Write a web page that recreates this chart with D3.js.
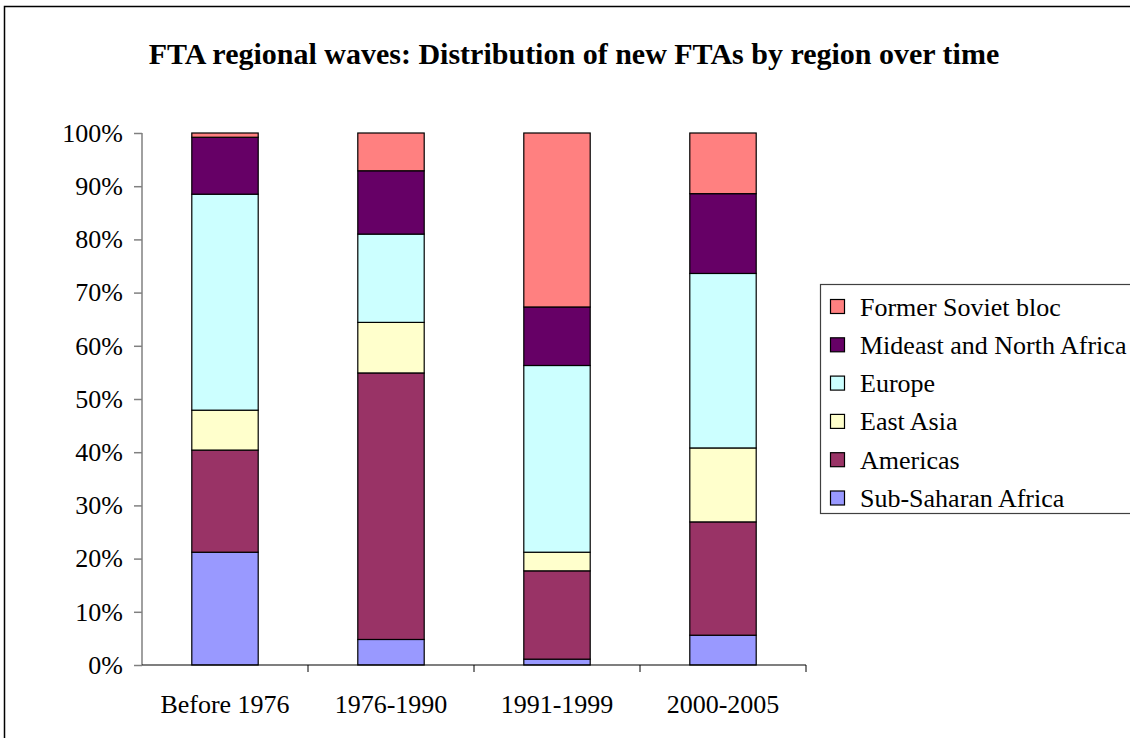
<!DOCTYPE html>
<html>
<head>
<meta charset="utf-8">
<script src="https://cdn.jsdelivr.net/npm/d3@7"></script>
<style>
  body { margin: 0; background: #fff; }
  svg { display: block; font-family: "Liberation Serif", "Times New Roman", serif; }
</style>
</head>
<body>
<div id="chart"></div>
<script>
// periods on the x axis
var categories = ["Before 1976", "1976-1990", "1991-1999", "2000-2005"];

// regions, stacked bottom to top (percent of new FTAs in the period)
var regions = ["Sub-Saharan Africa", "Americas", "East Asia", "Europe", "Mideast and North Africa", "Former Soviet bloc"];
var subSaharan = [21.2, 4.8, 1.1, 5.6];
var americas = [19.2, 50.1, 16.6, 21.3];
var eastAsia = [7.5, 9.5, 3.5, 13.9];
var europe = [40.6, 16.6, 35.1, 32.8];
var mideast = [10.7, 11.9, 11.0, 15.0];
var sovietBloc = [0.8, 7.1, 32.7, 11.4];

var yTicks = [0, 10, 20, 30, 40, 50, 60, 70, 80, 90, 100];

var colors = ["#9999FF", "#993366", "#FFFFCC", "#CCFFFF", "#660066", "#FF8080"];

var width = 1130, height = 738;
var plot = { left: 142, right: 806, top: 133, bottom: 665 };

//build rows for the stack
var seriesValues = [subSaharan, americas, eastAsia, europe, mideast, sovietBloc];
var rows = categories.map(function(c, i) {
    var row = { category: c };
    regions.forEach(function(r, j) { row[r] = seriesValues[j][i]; });
    return row;
});

var stacked = d3.stack().keys(regions)(rows);

var x = d3.scaleBand()
    .domain(categories)
    .range([plot.left, plot.right])
    .paddingInner(0.6)
    .paddingOuter(0.3);

var y = d3.scaleLinear()
    .domain([0, 100])
    .range([plot.bottom, plot.top]);

var color = d3.scaleOrdinal().domain(regions).range(colors);

var svg = d3.select('#chart')
    .append('svg')
    .attr('width', width)
    .attr('height', height);

// chart border
svg.append('rect')
    .attr('x', 4.5).attr('y', 6.5)
    .attr('width', width + 10).attr('height', height + 10)
    .attr('fill', 'none')
    .attr('stroke', '#000')
    .attr('stroke-width', 1.5);

svg.append('text')
    .attr('x', 574)
    .attr('y', 64)
    .attr('text-anchor', 'middle')
    .attr('font-size', '30px')
    .attr('font-weight', 'bold')
    .text('FTA regional waves: Distribution of new FTAs by region over time');

// bars
svg.append('g').selectAll('g')
    .data(stacked)
    .enter().append('g')
    .attr('fill', function(d) { return color(d.key); })
    .selectAll('rect')
    .data(function(d) { return d; })
    .enter().append('rect')
    .attr('x', function(d) { return x(d.data.category); })
    .attr('y', function(d) { return y(d[1]); })
    .attr('width', x.bandwidth())
    .attr('height', function(d) { return y(d[0]) - y(d[1]); })
    .attr('stroke', '#000')
    .attr('stroke-width', 1.2);

// y axis
var yAxis = svg.append('g')
    .attr('transform', 'translate(' + plot.left + ',0)')
    .call(d3.axisLeft(y).tickValues(yTicks).tickSize(8).tickPadding(11)
        .tickFormat(function(d) { return d + '%'; }));
yAxis.selectAll('path, line').attr('stroke', '#808080').attr('stroke-width', 1.5);
yAxis.select('.domain').attr('d', 'M0,' + plot.top + 'V' + plot.bottom);
yAxis.selectAll('text')
    .attr('font-family', '"Liberation Serif", "Times New Roman", serif')
    .attr('font-size', '26px')
    .attr('fill', '#000');

// x axis, ticks sit between the categories
var xAxis = svg.append('g').attr('transform', 'translate(0,' + plot.bottom + ')');
xAxis.append('line')
    .attr('x1', plot.left).attr('x2', plot.right)
    .attr('stroke', '#000').attr('stroke-width', 1.2);
var bounds = categories.map(function(c) { return x(c) - x.step() * x.paddingInner() / 2; });
bounds.push(plot.right);
xAxis.selectAll('line.tick')
    .data(bounds.slice(1))
    .enter().append('line')
    .attr('class', 'tick')
    .attr('x1', function(d) { return d; }).attr('x2', function(d) { return d; })
    .attr('y1', 0).attr('y2', 7)
    .attr('stroke', '#000');
xAxis.selectAll('text')
    .data(categories)
    .enter().append('text')
    .attr('x', function(d) { return x(d) + x.bandwidth() / 2; })
    .attr('y', 48)
    .attr('text-anchor', 'middle')
    .attr('font-size', '26px')
    .text(function(d) { return d; });

// legend
var legend = svg.append('g');
legend.append('rect')
    .attr('x', 820.5).attr('y', 284.5)
    .attr('width', 320).attr('height', 229)
    .attr('fill', '#fff')
    .attr('stroke', '#404040')
    .attr('stroke-width', 1.2);

var items = legend.selectAll('g.item')
    .data(regions.slice().reverse())
    .enter().append('g')
    .attr('class', 'item')
    .attr('transform', function(d, i) { return 'translate(0,' + (306.5 + i * 38.3) + ')'; });
items.append('rect')
    .attr('x', 830.5).attr('y', -7)
    .attr('width', 14).attr('height', 14)
    .attr('fill', function(d) { return color(d); })
    .attr('stroke', '#000')
    .attr('stroke-width', 1.2);
items.append('text')
    .attr('x', 860)
    .attr('y', 9)
    .attr('font-size', '26px')
    .text(function(d) { return d; });
</script>
</body>
</html>
